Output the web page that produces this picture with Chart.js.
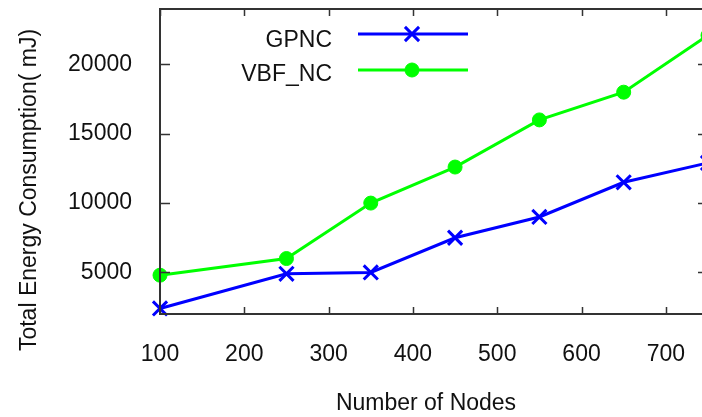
<!DOCTYPE html>
<html>
<head>
<meta charset="utf-8">
<title>Total Energy Consumption</title>
<script src="https://cdn.jsdelivr.net/npm/chart.js@4/dist/chart.umd.min.js"></script>
<style>
    html, body {
        margin: 0;
        padding: 0;
        background: #ffffff;
        overflow: hidden;
    }

    #wrap {
        width: 712px;
        height: 417px;
    }
</style>
</head>
<body>
<div id="wrap">
    <canvas id="energyChart" width="712" height="417"></canvas>
</div>

<script>
"use strict";

/* =========================================================
   DATA
========================================================= */

const nodeCounts = [100, 250, 350, 450, 550, 650, 750];

const gpncEnergy = [2400, 4900, 5000, 7500, 9000, 11500, 12900];

const vbfEnergy = [4800, 6000, 10000, 12600, 16000, 18000, 22100];

const xTickValues = [100, 200, 300, 400, 500, 600, 700];

const yTickValues = [5000, 10000, 15000, 20000];

const xTitle = "Number of Nodes";

const yTitle = "Total Energy Consumption( mJ)";


/* =========================================================
   STYLE
========================================================= */

const FONT_FAMILY = "'Liberation Sans', Arial, sans-serif";

const TEXT_COLOR = "#111111";

const FRAME_COLOR = "#333333";


/* =========================================================
   FRAME + INWARD TICKS (gnuplot look)
========================================================= */

const framePlugin = {

    id: "gnuplotFrame",

    afterDatasetsDraw(chart) {

        const ctx = chart.ctx;
        const area = chart.chartArea;
        const x = chart.scales.x;
        const y = chart.scales.y;

        ctx.save();

        ctx.strokeStyle = FRAME_COLOR;
        ctx.lineWidth = 1.5;

        ctx.beginPath();

        x.ticks.forEach((tick) => {
            const px = Math.round(x.getPixelForValue(tick.value)) + 0.5;
            ctx.moveTo(px, area.bottom);
            ctx.lineTo(px, area.bottom - 7);
            ctx.moveTo(px, area.top);
            ctx.lineTo(px, area.top + 7);
        });

        y.ticks.forEach((tick) => {
            const py = Math.round(y.getPixelForValue(tick.value)) + 0.5;
            ctx.moveTo(area.left, py);
            ctx.lineTo(area.left + 10, py);
            ctx.moveTo(area.right, py);
            ctx.lineTo(area.right - 10, py);
        });

        ctx.stroke();

        ctx.lineWidth = 2;
        ctx.strokeRect(
            area.left,
            area.top,
            area.right - area.left,
            area.bottom - area.top
        );

        ctx.restore();

    },

    afterDraw(chart) {

        const ctx = chart.ctx;

        ctx.save();

        ctx.fillStyle = TEXT_COLOR;
        ctx.font = "23px " + FONT_FAMILY;

        // axis titles (gnuplot puts them off-centre)
        ctx.textAlign = "center";
        ctx.textBaseline = "middle";
        ctx.fillText(xTitle, 426, 404);

        ctx.save();
        ctx.translate(30, 190);
        ctx.rotate(-Math.PI / 2);
        ctx.fillText(yTitle, 0, 0);
        ctx.restore();

        // key: label on the left, sample line + marker on the right
        const rows = [
            { index: 0, lineY: 34, textY: 41 },
            { index: 1, lineY: 70, textY: 75 }
        ];

        rows.forEach((row) => {

            const ds = chart.data.datasets[row.index];

            ctx.textAlign = "right";
            ctx.fillStyle = TEXT_COLOR;
            ctx.fillText(ds.label, 332, row.textY);

            ctx.strokeStyle = ds.borderColor;
            ctx.lineWidth = ds.borderWidth;
            ctx.beginPath();
            ctx.moveTo(358, row.lineY);
            ctx.lineTo(468, row.lineY);
            ctx.stroke();

            ctx.fillStyle = ds.pointBackgroundColor;
            ctx.strokeStyle = ds.borderColor;
            ctx.lineWidth = ds.pointBorderWidth;

            Chart.helpers.drawPoint(ctx, {
                pointStyle: ds.pointStyle,
                radius: ds.pointRadius,
                rotation: 0,
                borderWidth: ds.pointBorderWidth
            }, 412, row.lineY);

        });

        ctx.restore();

    }

};


/* =========================================================
   CHART
========================================================= */

function createEnergyChart() {

    const canvas = document.getElementById("energyChart");

    if (!canvas) return;

    new Chart(canvas, {

        type: "line",

        data: {

            labels: nodeCounts,

            datasets: [

                {
                    label: "GPNC",
                    data: nodeCounts.map((n, i) => ({ x: n, y: gpncEnergy[i] })),
                    borderColor: "#0000ff",
                    backgroundColor: "#0000ff",
                    pointBackgroundColor: "#0000ff",
                    borderWidth: 3,
                    pointStyle: "crossRot",
                    pointRadius: 10,
                    pointBorderWidth: 3,
                    tension: 0,
                    clip: false
                },

                {
                    label: "VBF_NC",
                    data: nodeCounts.map((n, i) => ({ x: n, y: vbfEnergy[i] })),
                    borderColor: "#00ff00",
                    backgroundColor: "#00ff00",
                    pointBackgroundColor: "#00ff00",
                    borderWidth: 3,
                    pointStyle: "circle",
                    pointRadius: 7,
                    pointBorderWidth: 1,
                    tension: 0,
                    clip: false
                }

            ]

        },

        options: {

            responsive: false,

            animation: false,

            devicePixelRatio: 1,

            layout: {
                autoPadding: false,
                padding: { top: 9, right: 4, left: 0, bottom: 0 }
            },

            scales: {

                x: {
                    type: "linear",
                    position: "bottom",
                    min: 100,
                    max: 750,
                    afterBuildTicks(scale) {
                        scale.ticks = xTickValues.map((v) => ({ value: v }));
                    },
                    afterFit(scale) {
                        scale.height = 103;
                        scale.paddingLeft = 0;
                        scale.paddingRight = 0;
                    },
                    grid: { display: false, drawTicks: false },
                    border: { display: false },
                    ticks: {
                        padding: 27,
                        color: TEXT_COLOR,
                        font: { family: FONT_FAMILY, size: 23 },
                        maxRotation: 0
                    }
                },

                y: {
                    type: "linear",
                    position: "left",
                    min: 2000,
                    max: 24000,
                    afterBuildTicks(scale) {
                        scale.ticks = yTickValues.map((v) => ({ value: v }));
                    },
                    afterFit(scale) {
                        scale.width = 160;
                        scale.paddingTop = 0;
                        scale.paddingBottom = 0;
                    },
                    grid: { display: false, drawTicks: false },
                    border: { display: false },
                    ticks: {
                        padding: 28,
                        color: TEXT_COLOR,
                        font: { family: FONT_FAMILY, size: 23 },
                        callback: (value) => String(value)
                    }
                }

            },

            plugins: {
                legend: { display: false },
                tooltip: { enabled: false }
            }

        },

        plugins: [framePlugin]

    });

}

createEnergyChart();
</script>
</body>
</html>
